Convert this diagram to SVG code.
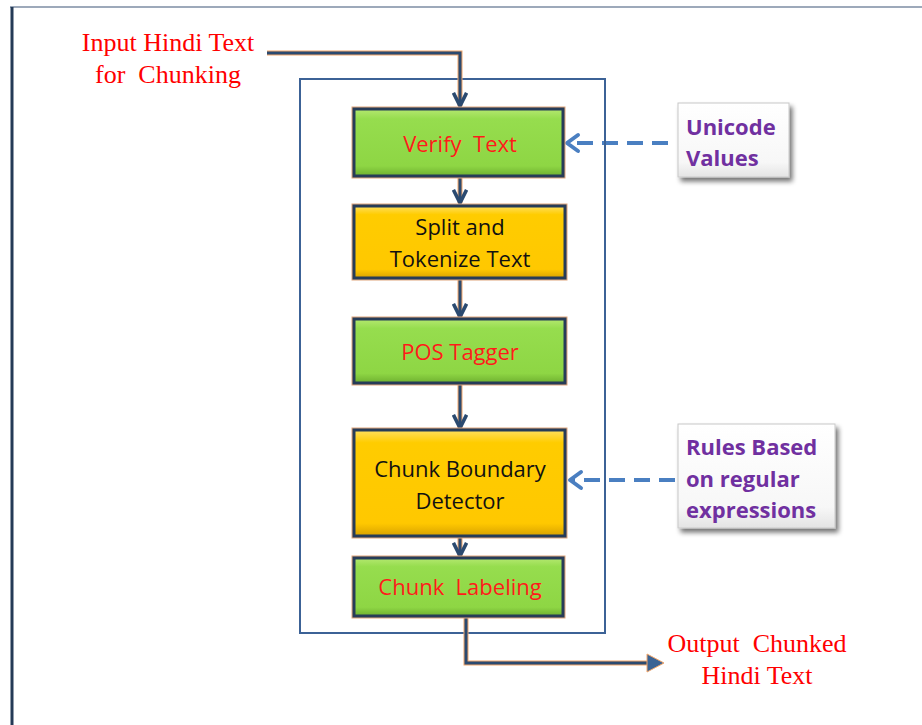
<svg xmlns="http://www.w3.org/2000/svg" width="922" height="725" viewBox="0 0 922 725">
  <style>
    text { white-space: pre; }
    .serif { font-family: "Liberation Serif", "DejaVu Serif", serif; fill: #ff0000; font-size: 26px; text-anchor: middle; }
    .lbl { font-family: "Open Sans", "Liberation Sans", sans-serif; font-size: 22px; text-anchor: middle; }
    .red { fill: #ff1a1a; }
    .blk { fill: #111111; }
    .note { font-family: "Open Sans", "Liberation Sans", sans-serif; font-size: 22px; font-weight: bold; fill: #7030a0; }
    .halo { fill: none; stroke: #f2a66a; stroke-width: 5; }
    .core { fill: none; stroke: #2b4a70; stroke-width: 3; }
    .dash { fill: none; stroke: #4a7fc1; stroke-width: 4; stroke-dasharray: 16 9; }
    .tip { fill: none; stroke: #4a7fc1; stroke-width: 4; stroke-linecap: round; stroke-linejoin: round; }
    .box-edge { fill: none; stroke: #e0a67c; stroke-width: 5; }
    .box-line { stroke: #263c58; stroke-width: 3; }
  </style>
  <defs>
    <linearGradient id="green" x1="0" y1="0" x2="0" y2="1">
      <stop offset="0" stop-color="#b4e870"/>
      <stop offset="0.15" stop-color="#96dd4e"/>
      <stop offset="0.85" stop-color="#8ed644"/>
      <stop offset="1" stop-color="#6fb030"/>
    </linearGradient>
    <linearGradient id="gold" x1="0" y1="0" x2="0" y2="1">
      <stop offset="0" stop-color="#ffe060"/>
      <stop offset="0.12" stop-color="#ffcc00"/>
      <stop offset="0.88" stop-color="#ffc800"/>
      <stop offset="1" stop-color="#d9a200"/>
    </linearGradient>
    <linearGradient id="paper" x1="0" y1="0" x2="0" y2="1">
      <stop offset="0" stop-color="#ffffff"/>
      <stop offset="0.8" stop-color="#f7f7f7"/>
      <stop offset="1" stop-color="#e4e4e4"/>
    </linearGradient>
    <filter id="shadow" x="-20%" y="-20%" width="150%" height="150%">
      <feGaussianBlur in="SourceAlpha" stdDeviation="2.5"/>
      <feOffset dx="3" dy="4"/>
      <feComponentTransfer><feFuncA type="linear" slope="0.55"/></feComponentTransfer>
      <feMerge><feMergeNode/><feMergeNode in="SourceGraphic"/></feMerge>
    </filter>
    <marker id="headDark" viewBox="0 0 10 10" refX="9" refY="5" markerWidth="5.5" markerHeight="5.5" orient="auto">
      <path d="M1,1 L9,5 L1,9" fill="none" stroke="#2b4a70" stroke-width="2.2" stroke-linejoin="miter"/>
    </marker>
  </defs>

  <!-- page frame -->
  <line x1="10" y1="7" x2="922" y2="7" stroke="#7d8ca3" stroke-width="1.5"/>
  <line x1="12" y1="7" x2="12" y2="725" stroke="#243a56" stroke-width="3"/>

  <!-- process container -->
  <rect id="container" x="300" y="79" width="305" height="554" fill="none" stroke="#3c6296" stroke-width="2"/>

  <!-- connectors -->
  <g id="connectors">
    <path class="halo" d="M267,53 H460 V106"/>
    <path class="core" d="M267,53 H460 V106" marker-end="url(#headDark)"/>
    <line class="halo" x1="460" y1="176" x2="460" y2="203"/>
    <line class="core" x1="460" y1="176" x2="460" y2="203" marker-end="url(#headDark)"/>
    <line class="halo" x1="460" y1="278" x2="460" y2="317"/>
    <line class="core" x1="460" y1="278" x2="460" y2="317" marker-end="url(#headDark)"/>
    <line class="halo" x1="460" y1="383" x2="460" y2="428"/>
    <line class="core" x1="460" y1="383" x2="460" y2="428" marker-end="url(#headDark)"/>
    <line class="halo" x1="460" y1="536" x2="460" y2="556"/>
    <line class="core" x1="460" y1="536" x2="460" y2="556" marker-end="url(#headDark)"/>
    <path class="halo" d="M466,616 V663 H648"/>
    <path class="core" d="M466,616 V663 H652"/>
    <path d="M647,654 L664,663 L647,672 Z" fill="#3a6394" stroke="#f2a66a" stroke-width="1"/>
    <line class="dash" x1="668" y1="143" x2="568" y2="143"/>
    <path class="tip" d="M578,135 L567,143 L578,151"/>
    <line class="dash" x1="675" y1="480" x2="571" y2="480"/>
    <path class="tip" d="M581,472 L570,480 L581,488"/>
  </g>

  <!-- container edge stays on top of the dashed links -->
  <line x1="605" y1="79" x2="605" y2="633" stroke="#3c6296" stroke-width="2"/>

  <g id="input">
    <text class="serif" x="168" y="51">Input Hindi Text</text>
    <text class="serif" x="168" y="83">for  Chunking</text>
  </g>

  <g id="verify">
    <rect class="box-edge" x="354" y="109" width="209" height="67"/>
    <rect class="box-line" x="354" y="109" width="209" height="67" fill="url(#green)"/>
    <text class="lbl red" x="460" y="152">Verify  Text</text>
  </g>

  <g id="split">
    <rect class="box-edge" x="354" y="206" width="211" height="72"/>
    <rect class="box-line" x="354" y="206" width="211" height="72" fill="url(#gold)"/>
    <text class="lbl blk" x="460" y="235">Split and</text>
    <text class="lbl blk" x="460" y="267">Tokenize Text</text>
  </g>

  <g id="pos">
    <rect class="box-edge" x="354" y="319" width="211" height="64"/>
    <rect class="box-line" x="354" y="319" width="211" height="64" fill="url(#green)"/>
    <text class="lbl red" x="460" y="360">POS Tagger</text>
  </g>

  <g id="boundary">
    <rect class="box-edge" x="354" y="430" width="211" height="106"/>
    <rect class="box-line" x="354" y="430" width="211" height="106" fill="url(#gold)"/>
    <text class="lbl blk" x="460" y="477">Chunk Boundary</text>
    <text class="lbl blk" x="460" y="509">Detector</text>
  </g>

  <g id="labeling">
    <rect class="box-edge" x="354" y="558" width="209" height="58"/>
    <rect class="box-line" x="354" y="558" width="209" height="58" fill="url(#green)"/>
    <text class="lbl red" x="460" y="595" font-size="20">Chunk  Labeling</text>
  </g>

  <g id="unicode">
    <rect x="678" y="103" width="111" height="74" fill="url(#paper)" stroke="#c8c8c8" stroke-width="1" filter="url(#shadow)"/>
    <text class="note" x="686" y="135">Unicode</text>
    <text class="note" x="686" y="166">Values</text>
  </g>

  <g id="rules">
    <rect x="678" y="424" width="157" height="104" fill="url(#paper)" stroke="#c8c8c8" stroke-width="1" filter="url(#shadow)"/>
    <text class="note" x="686" y="455">Rules Based</text>
    <text class="note" x="686" y="487">on regular</text>
    <text class="note" x="686" y="518">expressions</text>
  </g>

  <g id="output">
    <text class="serif" x="757" y="652">Output  Chunked</text>
    <text class="serif" x="757" y="684">Hindi Text</text>
  </g>
</svg>
